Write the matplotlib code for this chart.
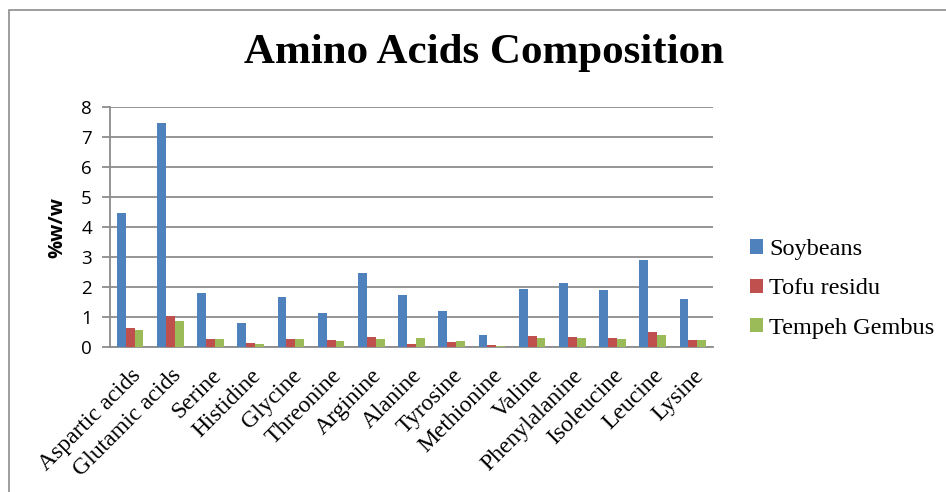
import matplotlib
matplotlib.use("Agg")
import matplotlib.pyplot as plt
from matplotlib.patches import Rectangle
import numpy as np

categories = ["Aspartic acids", "Glutamic acids", "Serine", "Histidine", "Glycine",
              "Threonine", "Arginine", "Alanine", "Tyrosine", "Methionine", "Valine",
              "Phenylalanine", "Isoleucine", "Leucine", "Lysine"]
soybeans = [4.47, 7.48, 1.81, 0.80, 1.68, 1.14, 2.46, 1.72, 1.19, 0.40, 1.92, 2.12, 1.90, 2.89, 1.61]
tofu_residu = [0.64, 1.03, 0.27, 0.12, 0.28, 0.22, 0.32, 0.11, 0.18, 0.06, 0.36, 0.34, 0.31, 0.51, 0.23]
tempeh_gembus = [0.58, 0.86, 0.27, 0.10, 0.26, 0.20, 0.27, 0.29, 0.19, 0.03, 0.29, 0.29, 0.28, 0.41, 0.23]
series_names = ["Soybeans", "Tofu residu", "Tempeh Gembus"]
colors = ["#4F81BD", "#C0504D", "#9BBB59"]
yticks = [0, 1, 2, 3, 4, 5, 6, 7, 8]

fig = plt.figure(figsize=(9.46, 4.92), dpi=100)
fig.patch.set_facecolor("white")

# chart frame
fig.add_artist(Rectangle((9 / 946, -0.05), 1.0, 1 - 10 / 492 + 0.05,
                         transform=fig.transFigure, fill=False,
                         edgecolor="#8c8c8c", linewidth=1.2))

ax = fig.add_axes([110 / 946, 1 - 347 / 492, 603 / 946, 240 / 492])
x = np.arange(len(categories))
w = 0.22
for i, (vals, name, c) in enumerate(zip([soybeans, tofu_residu, tempeh_gembus], series_names, colors)):
    ax.bar(x + (i - 1) * w, vals, width=w, color=c, label=name, zorder=3)

ax.set_xlim(-0.5, len(categories) - 0.5)
ax.set_ylim(0, 8)
ax.set_yticks(yticks)
ax.set_yticklabels([str(t) for t in yticks], fontfamily="Open Sans", fontsize=13.5)
ax.yaxis.grid(True, color="#8c8c8c", linewidth=1.3, zorder=0)
for s in ["top", "right"]:
    ax.spines[s].set_visible(False)
for s in ["left", "bottom"]:
    ax.spines[s].set_color("#8c8c8c")
    ax.spines[s].set_linewidth(1.3)
ax.tick_params(axis="y", length=6, color="#8c8c8c", width=1.3, pad=7)
ax.tick_params(axis="x", length=0, pad=13)
ax.set_xticks(x)
ax.set_xticklabels(categories, rotation=45, ha="right", rotation_mode="anchor",
                   fontfamily="Liberation Serif", fontsize=17)

ax.set_ylabel("%w/w", fontfamily="Open Sans", fontweight="bold", fontsize=14.5, labelpad=10)

fig.text(484 / 946, 1 - 53 / 492, "Amino Acids Composition", ha="center", va="center",
         fontfamily="Liberation Serif", fontweight="bold", fontsize=31)

fig.legend(loc="center left", bbox_to_anchor=(750 / 946, 1 - 289 / 492),
           frameon=False, prop={"family": "Liberation Serif", "size": 17.5},
           handlelength=0.55, handleheight=0.55, handletextpad=0.25, labelspacing=0.75,
           borderpad=0, borderaxespad=0)

fig.savefig("out.png", dpi=100, facecolor="white")
